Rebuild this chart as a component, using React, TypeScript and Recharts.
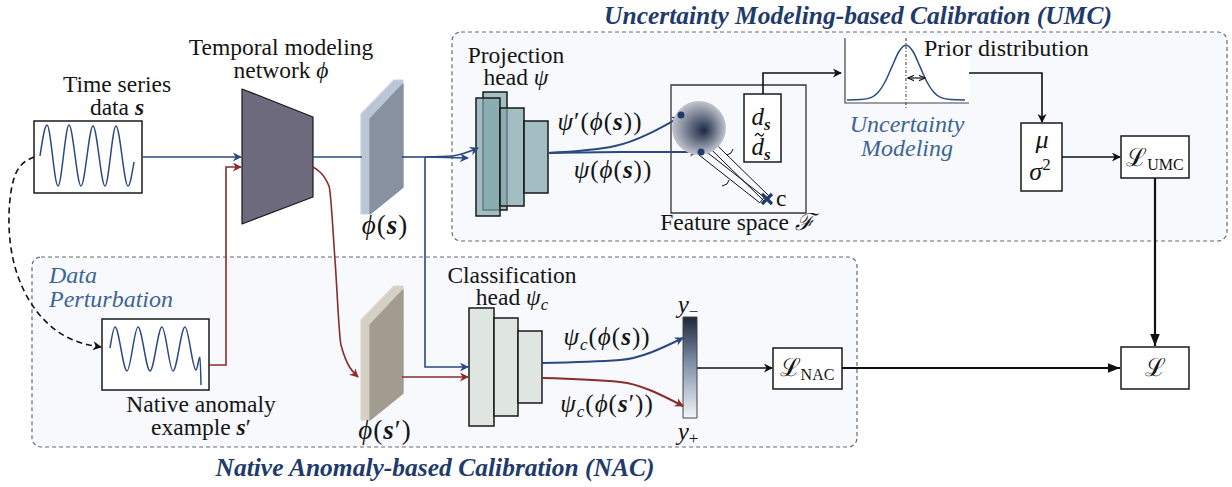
import { ComposedChart, XAxis, YAxis, Line, Scatter, ReferenceArea, ReferenceDot, Customized } from 'recharts';

type Pt = { x: number; y: number };
type Box = { x1: number; y1: number; x2: number; y2: number };

const SERIF = '"Liberation Serif", "DejaVu Serif", serif';
const INK = '#151515';
const NAVY = '#1f3b6b';
const SOFT_BLUE = '#3d6494';
const BLUE = '#2a4a7f';
const RED = '#8a2c2c';

// diagram units: 1 unit = 1 px of the original figure, y grows downwards

// sketched signals
const seriesS: Pt[] = [
  { x: 40, y: 156 }, { x: 47, y: 125 }, { x: 58, y: 186 }, { x: 69, y: 125 }, { x: 81, y: 186 },
  { x: 93, y: 126 }, { x: 105, y: 186 }, { x: 116, y: 126 }, { x: 128, y: 186 }, { x: 134, y: 162 },
];
const seriesAnomaly: Pt[] = [
  { x: 110, y: 348 }, { x: 115, y: 327 }, { x: 127, y: 371 }, { x: 138, y: 327 }, { x: 150, y: 371 },
  { x: 162, y: 327 }, { x: 173, y: 371 }, { x: 185, y: 327 }, { x: 196, y: 370 }, { x: 200, y: 357 }, { x: 201, y: 385 },
];
const priorCurve: Pt[] = [
  { x: 847, y: 100 }, { x: 861, y: 99.6 }, { x: 871, y: 97.6 }, { x: 878, y: 92.6 }, { x: 885, y: 82 },
  { x: 892, y: 66.6 }, { x: 899, y: 51.5 }, { x: 906, y: 45 }, { x: 913, y: 51.5 }, { x: 920, y: 66.6 },
  { x: 927, y: 82 }, { x: 934, y: 92.6 }, { x: 941, y: 97.6 }, { x: 951, y: 99.6 }, { x: 965, y: 100 },
];

// connectors
const sToNet: Pt[] = [{ x: 142, y: 157 }, { x: 241, y: 157 }];
const netToPlate: Pt[] = [{ x: 313, y: 157 }, { x: 362, y: 157 }];
const plateToSplit: Pt[] = [{ x: 402, y: 157 }, { x: 425, y: 157 }];
const splitToProjUpper: Pt[] = [{ x: 425, y: 157 }, { x: 452, y: 156 }, { x: 478, y: 148 }];
const splitToProjLower: Pt[] = [{ x: 425, y: 157 }, { x: 468, y: 158 }];
const splitToCls: Pt[] = [{ x: 425, y: 157 }, { x: 425, y: 367 }, { x: 468, y: 367 }];
const anomalyToNet: Pt[] = [{ x: 209, y: 365 }, { x: 226, y: 365 }, { x: 226, y: 167 }, { x: 241, y: 167 }];
const netToPlate2: Pt[] = [{ x: 313, y: 167 }, { x: 329, y: 186 }, { x: 335, y: 260 }, { x: 341, y: 345 }, { x: 358, y: 377 }];
const plate2ToCls: Pt[] = [{ x: 402, y: 377 }, { x: 468, y: 377 }];
const projToPrime: Pt[] = [{ x: 548, y: 153 }, { x: 615, y: 146 }, { x: 680, y: 117 }];
const projToPsi: Pt[] = [{ x: 548, y: 153 }, { x: 620, y: 152 }, { x: 698, y: 152 }];
const dToPrior: Pt[] = [{ x: 763, y: 94 }, { x: 763, y: 73 }, { x: 841, y: 73 }];
const priorToStats: Pt[] = [{ x: 969, y: 73 }, { x: 1042, y: 73 }, { x: 1042, y: 122 }];
const statsToUmc: Pt[] = [{ x: 1062, y: 157 }, { x: 1120, y: 157 }];
const umcToTotal: Pt[] = [{ x: 1155, y: 178 }, { x: 1155, y: 346 }];
const clsToMinus: Pt[] = [{ x: 542, y: 363 }, { x: 620, y: 360 }, { x: 683, y: 338 }];
const clsToPlus: Pt[] = [{ x: 542, y: 378 }, { x: 620, y: 382 }, { x: 683, y: 406 }];
const barToNac: Pt[] = [{ x: 697, y: 368 }, { x: 772, y: 368 }];
const nacToTotal: Pt[] = [{ x: 842, y: 368 }, { x: 1120, y: 368 }];
const perturbPath: Pt[] = [
  { x: 34, y: 157 }, { x: 14, y: 166 }, { x: 7, y: 215 }, { x: 12, y: 268 }, { x: 35, y: 315 }, { x: 70, y: 342 }, { x: 101, y: 347 },
];

// feature space
const band1: Pt[] = [{ x: 683.5, y: 112.5 }, { x: 769.5, y: 196.5 }, { x: 764.5, y: 201.5 }, { x: 678.5, y: 117.5 }, { x: 683.5, y: 112.5 }];
const band2: Pt[] = [{ x: 703.2, y: 149.2 }, { x: 764.2, y: 197.2 }, { x: 759.8, y: 202.8 }, { x: 698.8, y: 154.8 }, { x: 703.2, y: 149.2 }];
const brace1: Pt[] = [{ x: 727, y: 155 }, { x: 731, y: 153 }, { x: 733, y: 149 }];
const brace2: Pt[] = [{ x: 722, y: 186 }, { x: 727, y: 184 }, { x: 729, y: 180 }];
const crossA: Pt[] = [{ x: 762, y: 194 }, { x: 772, y: 204 }];
const crossB: Pt[] = [{ x: 762, y: 204 }, { x: 772, y: 194 }];
const tildeMark: Pt[] = [{ x: 755, y: 136 }, { x: 757.5, y: 133.5 }, { x: 761.5, y: 136 }, { x: 764, y: 133.5 }];
const featurePoints: Pt[] = [{ x: 681, y: 115 }, { x: 701, y: 152 }];
const blobCenter: Pt = { x: 699, y: 128 };

// prior plot furniture
const priorAxes: Pt[] = [{ x: 845, y: 38 }, { x: 845, y: 103 }, { x: 969, y: 103 }];
const priorMean: Pt[] = [{ x: 906, y: 38 }, { x: 906, y: 108 }];
const priorSpread: Pt[] = [{ x: 908, y: 78 }, { x: 925, y: 78 }];

// boxes
const umcPanel: Box = { x1: 452, y1: 32, x2: 1227, y2: 241 };
const nacPanel: Box = { x1: 32, y1: 257, x2: 857, y2: 447 };
const plainBoxes: Box[] = [
  { x1: 34, y1: 121, x2: 142, y2: 193 },
  { x1: 102, y1: 319, x2: 209, y2: 390 },
  { x1: 744, y1: 94, x2: 781, y2: 162 },
  { x1: 1021, y1: 123, x2: 1062, y2: 191 },
  { x1: 1121, y1: 136, x2: 1189, y2: 178 },
  { x1: 773, y1: 348, x2: 842, y2: 389 },
  { x1: 1121, y1: 347, x2: 1189, y2: 389 },
];
const featureBox: Box = { x1: 671, y1: 85, x2: 806, y2: 213 };
const priorPane: Box = { x1: 845, y1: 36, x2: 970, y2: 103 };
const projLayers: Box[] = [
  { x1: 483, y1: 92, x2: 507, y2: 210 },
  { x1: 476, y1: 98, x2: 500, y2: 216 },
  { x1: 500, y1: 108, x2: 524, y2: 206 },
  { x1: 524, y1: 121, x2: 548, y2: 193 },
];
const clsLayers: Box[] = [
  { x1: 469, y1: 308, x2: 494, y2: 426 },
  { x1: 494, y1: 318, x2: 518, y2: 416 },
  { x1: 518, y1: 331, x2: 542, y2: 403 },
];
const network: Box = { x1: 242, y1: 89, x2: 313, y2: 224 };
const plateS: Box = { x1: 361, y1: 80, x2: 403, y2: 214 };
const plateS2: Box = { x1: 361, y1: 286, x2: 403, y2: 420 };
const scoreBar: Box = { x1: 683, y1: 317, x2: 697, y2: 418 };

// text anchors
const texts = [
  { x: 858, y: 24, id: 'umcTitle' },
  { x: 435, y: 476, id: 'nacTitle' },
  { x: 117, y: 92, id: 'ts1' },
  { x: 117, y: 115, id: 'ts2' },
  { x: 281, y: 55, id: 'tm1' },
  { x: 281, y: 78, id: 'tm2' },
  { x: 385, y: 234, id: 'phiS' },
  { x: 385, y: 439, id: 'phiS2' },
  { x: 516, y: 63, id: 'ph1' },
  { x: 516, y: 85, id: 'ph2' },
  { x: 600, y: 130, id: 'psiP' },
  { x: 613, y: 178, id: 'psi' },
  { x: 761, y: 125, id: 'ds' },
  { x: 761, y: 155, id: 'dts' },
  { x: 776, y: 206, id: 'c' },
  { x: 737, y: 230, id: 'fs' },
  { x: 924, y: 56, id: 'prior' },
  { x: 907, y: 132, id: 'um1' },
  { x: 907, y: 156, id: 'um2' },
  { x: 1042, y: 148, id: 'mu' },
  { x: 1040, y: 180, id: 'sigma' },
  { x: 1155, y: 166, id: 'lumc' },
  { x: 49, y: 283, id: 'dp1' },
  { x: 49, y: 307, id: 'dp2' },
  { x: 201, y: 412, id: 'na1' },
  { x: 201, y: 435, id: 'na2' },
  { x: 512, y: 283, id: 'ch1' },
  { x: 512, y: 305, id: 'ch2' },
  { x: 607, y: 345, id: 'psic' },
  { x: 607, y: 412, id: 'psic2' },
  { x: 688, y: 313, id: 'yminus' },
  { x: 688, y: 440, id: 'yplus' },
  { x: 807, y: 376, id: 'lnac' },
  { x: 1155, y: 376, id: 'lall' },
];

const I = ({ children }: { children: string }) => <tspan fontStyle="italic">{children}</tspan>;
const B = ({ children }: { children: string }) => <tspan fontStyle="italic" fontWeight="bold">{children}</tspan>;

function renderText(id: string, x: number, y: number) {
  const base = { x, y, style: { fontFamily: SERIF }, fontSize: 23.5, fill: INK, textAnchor: 'middle' as const };
  const math = { ...base, fontSize: 25, letterSpacing: 1 };
  const title = { ...base, fontSize: 25.5, fontWeight: 'bold', fontStyle: 'italic', fill: NAVY };
  switch (id) {
    case 'umcTitle': return <text {...title}>Uncertainty Modeling-based Calibration (UMC)</text>;
    case 'nacTitle': return <text {...title}>Native Anomaly-based Calibration (NAC)</text>;
    case 'ts1': return <text {...base}>Time series</text>;
    case 'ts2': return <text {...base}>data <B>s</B></text>;
    case 'tm1': return <text {...base}>Temporal modeling</text>;
    case 'tm2': return <text {...base}>network <I>ϕ</I></text>;
    case 'phiS': return <text {...math} fontSize={27}><I>ϕ</I>(<B>s</B>)</text>;
    case 'phiS2': return <text {...math} fontSize={27}><I>ϕ</I>(<B>s</B>′)</text>;
    case 'ph1': return <text {...base}>Projection</text>;
    case 'ph2': return <text {...base}>head <I>ψ</I></text>;
    case 'psiP': return <text {...math}><I>ψ</I>′(<I>ϕ</I>(<B>s</B>))</text>;
    case 'psi': return <text {...math}><I>ψ</I>(<I>ϕ</I>(<B>s</B>))</text>;
    case 'ds': return <text {...base} fontSize={25}><I>d</I><tspan dy={5} fontSize={17} fontStyle="italic" fontWeight="bold">s</tspan></text>;
    case 'dts': return <text {...base} fontSize={25}><I>d</I><tspan dy={5} fontSize={17} fontStyle="italic" fontWeight="bold">s</tspan></text>;
    case 'c': return <text {...base} textAnchor="start">c</text>;
    case 'fs': return <text {...base}>Feature space <I>ℱ</I></text>;
    case 'prior': return <text {...base} fontSize={24} textAnchor="start">Prior distribution</text>;
    case 'um1': return <text {...base} fontSize={24} fontStyle="italic" fill={SOFT_BLUE}>Uncertainty</text>;
    case 'um2': return <text {...base} fontSize={24} fontStyle="italic" fill={SOFT_BLUE}>Modeling</text>;
    case 'mu': return <text {...base} fontSize={26}><I>μ</I></text>;
    case 'sigma': return <text {...base} fontSize={26}><I>σ</I><tspan dy={-10} fontSize={17}>2</tspan></text>;
    case 'lumc': return <text {...base} fontSize={25}>ℒ<tspan dy={4} fontSize={16}>UMC</tspan></text>;
    case 'lnac': return <text {...base} fontSize={25}>ℒ<tspan dy={4} fontSize={16}>NAC</tspan></text>;
    case 'lall': return <text {...base} fontSize={25}>ℒ</text>;
    case 'dp1': return <text {...base} fontSize={24} textAnchor="start" fontStyle="italic" fill={SOFT_BLUE}>Data</text>;
    case 'dp2': return <text {...base} fontSize={24} textAnchor="start" fontStyle="italic" fill={SOFT_BLUE}>Perturbation</text>;
    case 'na1': return <text {...base}>Native anomaly</text>;
    case 'na2': return <text {...base}>example <B>s</B>′</text>;
    case 'ch1': return <text {...base}>Classification</text>;
    case 'ch2': return <text {...base}>head <I>ψ</I><tspan dy={5} fontSize={17} fontStyle="italic">c</tspan></text>;
    case 'psic': return <text {...math}><I>ψ</I><tspan dy={5} fontSize={17} fontStyle="italic">c</tspan><tspan dy={-5}>(</tspan><I>ϕ</I>(<B>s</B>))</text>;
    case 'psic2': return <text {...math}><I>ψ</I><tspan dy={5} fontSize={17} fontStyle="italic">c</tspan><tspan dy={-5}>(</tspan><I>ϕ</I>(<B>s</B>′))</text>;
    case 'yminus': return <text {...base} fontSize={25}><I>y</I><tspan dy={4} fontSize={17}>−</tspan></text>;
    case 'yplus': return <text {...base} fontSize={25}><I>y</I><tspan dy={4} fontSize={17}>+</tspan></text>;
    default: return <g />;
  }
}

const Defs = () => (
  <defs>
    <marker id="mBlue" viewBox="0 0 10 10" refX="9" refY="5" markerWidth="11" markerHeight="9" markerUnits="userSpaceOnUse" orient="auto-start-reverse">
      <path d="M0,0 L10,5 L0,10 L3,5 z" fill={BLUE} />
    </marker>
    <marker id="mRed" viewBox="0 0 10 10" refX="9" refY="5" markerWidth="11" markerHeight="9" markerUnits="userSpaceOnUse" orient="auto-start-reverse">
      <path d="M0,0 L10,5 L0,10 L3,5 z" fill={RED} />
    </marker>
    <marker id="mBlack" viewBox="0 0 10 10" refX="9" refY="5" markerWidth="11" markerHeight="9" markerUnits="userSpaceOnUse" orient="auto-start-reverse">
      <path d="M0,0 L10,5 L0,10 L3,5 z" fill="#111" />
    </marker>
    <marker id="mSmall" viewBox="0 0 10 10" refX="9" refY="5" markerWidth="7" markerHeight="7" markerUnits="userSpaceOnUse" orient="auto-start-reverse">
      <path d="M0,1 L9,5 L0,9" fill="none" stroke="#111" strokeWidth="1.5" />
    </marker>
    <marker id="mHeavy" viewBox="0 0 10 10" refX="10" refY="5" markerWidth="12" markerHeight="12" markerUnits="userSpaceOnUse" orient="auto-start-reverse">
      <path d="M0,1 L10,5 L0,9 z" fill="#111" />
    </marker>
    <radialGradient id="blob" cx="0.5" cy="0.5" r="0.5" fx="0.6" fy="0.55">
      <stop offset="0%" stopColor="#1d2842" />
      <stop offset="40%" stopColor="#5d677c" />
      <stop offset="100%" stopColor="#c2c5cd" />
    </radialGradient>
    <linearGradient id="ybar" x1="0" y1="0" x2="0" y2="1">
      <stop offset="0%" stopColor="#1e2738" />
      <stop offset="45%" stopColor="#7d8faa" />
      <stop offset="100%" stopColor="#f4f6f9" />
    </linearGradient>
  </defs>
);

const poly = (frac: number[][], fill: string, stroke: string) => (p: any) => (
  <polygon
    points={frac.map(([fx, fy]) => `${p.x + fx * p.width},${p.y + fy * p.height}`).join(' ')}
    fill={fill}
    stroke={stroke}
    strokeWidth={1.2}
    strokeLinejoin="round"
  />
);

const panelShape = (p: any) => (
  <rect x={p.x} y={p.y} width={p.width} height={p.height} rx={9} ry={9} fill="#f7f9fc" stroke="#6b6b6b" strokeWidth={1.2} strokeDasharray="4 3" />
);

const TRAPEZOID = [[0, 0], [1, 0.207], [1, 0.8], [0, 1]];
const PLATE_SIDE = [[0, 0.254], [0.786, 0], [1, 0], [1, 0.8], [0.214, 1], [0, 1]];
const PLATE_FACE = [[0.214, 0.29], [1, 0.03], [1, 0.8], [0.214, 1]];

function wire(key: string, data: Pt[], stroke: string, opts: { marker?: string; start?: string; type?: any; width?: number; dash?: string } = {}) {
  return (
    <Line
      key={key}
      data={data}
      dataKey="y"
      type={opts.type ?? 'linear'}
      stroke={stroke}
      strokeWidth={opts.width ?? 1.6}
      strokeDasharray={opts.dash}
      markerEnd={opts.marker ? `url(#${opts.marker})` : undefined}
      markerStart={opts.start ? `url(#${opts.start})` : undefined}
      dot={false}
      activeDot={false}
      isAnimationActive={false}
      legendType="none"
    />
  );
}

export default function App() {
  return (
    <div style={{ position: 'absolute', left: 0, top: 0, background: '#fff', fontFamily: SERIF }}>
      <ComposedChart width={1232} height={487} margin={{ top: 0, right: 0, bottom: 0, left: 0 }} style={{ fontFamily: SERIF }}>
        <Customized component={Defs} />
        <XAxis type="number" dataKey="x" domain={[0, 1232]} allowDataOverflow hide />
        <YAxis type="number" dataKey="y" domain={[0, 487]} reversed allowDataOverflow hide />

        {/* dashed calibration panels */}
        <ReferenceArea {...umcPanel} shape={panelShape} ifOverflow="visible" />
        <ReferenceArea {...nacPanel} shape={panelShape} ifOverflow="visible" />

        {/* plain boxes */}
        {plainBoxes.map((b, i) => (
          <ReferenceArea key={`box${i}`} {...b} fill="#fff" fillOpacity={1} stroke="#1a1a1a" strokeWidth={1.5} ifOverflow="visible" />
        ))}
        <ReferenceArea {...featureBox} fill="none" fillOpacity={0} stroke="#333" strokeWidth={1.3} ifOverflow="visible" />
        <ReferenceArea {...priorPane} fill="#fff" fillOpacity={1} stroke="none" ifOverflow="visible" />

        {/* network, feature plates, heads */}
        <ReferenceArea {...network} shape={poly(TRAPEZOID, '#6d6a7d', '#1a1a1a')} ifOverflow="visible" />
        <ReferenceArea {...plateS} shape={poly(PLATE_SIDE, '#bac5d6', '#c9d2e0')} ifOverflow="visible" />
        <ReferenceArea {...plateS} shape={poly(PLATE_FACE, '#87919f', '#87919f')} ifOverflow="visible" />
        <ReferenceArea {...plateS2} shape={poly(PLATE_SIDE, '#d6cfc4', '#ddd7cd')} ifOverflow="visible" />
        <ReferenceArea {...plateS2} shape={poly(PLATE_FACE, '#a29b90', '#a29b90')} ifOverflow="visible" />
        {projLayers.map((b, i) => (
          <ReferenceArea key={`proj${i}`} {...b} fill="#7fa5a9" fillOpacity={0.7} stroke="#1a1a1a" strokeWidth={1.5} ifOverflow="visible" />
        ))}
        {clsLayers.map((b, i) => (
          <ReferenceArea key={`cls${i}`} {...b} fill="#dfe6e2" fillOpacity={1} stroke="#1a1a1a" strokeWidth={1.5} ifOverflow="visible" />
        ))}
        <ReferenceArea {...scoreBar} fill="url(#ybar)" fillOpacity={1} stroke="#444" strokeWidth={1} ifOverflow="visible" />

        {/* feature space */}
        <ReferenceDot x={blobCenter.x} y={blobCenter.y} r={27} fill="url(#blob)" stroke="none" ifOverflow="visible" />

        {/* signals */}
        {wire('sigS', seriesS, BLUE, { type: 'monotone', width: 1.5 })}
        {wire('sigA', seriesAnomaly, BLUE, { type: 'monotone', width: 1.5 })}
        {wire('prior', priorCurve, BLUE, { type: 'monotone', width: 1.5 })}
        {wire('pAxes', priorAxes, '#444', { width: 1.2 })}
        {wire('pMean', priorMean, '#555', { width: 1.2, dash: '3 2 1 2' })}
        {wire('pSpread', priorSpread, '#111', { width: 1.2, marker: 'mSmall', start: 'mSmall' })}

        {/* blue path of s */}
        {wire('w1', sToNet, BLUE, { marker: 'mBlue' })}
        {wire('w2', netToPlate, BLUE)}
        {wire('w3', plateToSplit, BLUE)}
        {wire('w4', splitToProjUpper, BLUE, { type: 'monotone', marker: 'mBlue' })}
        {wire('w5', splitToProjLower, BLUE, { marker: 'mBlue' })}
        {wire('w6', splitToCls, BLUE, { marker: 'mBlue' })}
        {wire('w7', projToPrime, BLUE, { type: 'monotone', marker: 'mBlue', width: 2 })}
        {wire('w8', projToPsi, BLUE, { type: 'monotone', marker: 'mBlue', width: 2 })}
        {wire('w9', clsToMinus, BLUE, { type: 'monotone', marker: 'mBlue', width: 2 })}

        {/* red path of s' */}
        {wire('r1', anomalyToNet, RED, { marker: 'mRed' })}
        {wire('r2', netToPlate2, RED, { type: 'monotone', marker: 'mRed' })}
        {wire('r3', plate2ToCls, RED, { marker: 'mRed' })}
        {wire('r4', clsToPlus, RED, { type: 'monotone', marker: 'mRed', width: 2 })}

        {/* black flows */}
        {wire('k1', dToPrior, '#111', { marker: 'mBlack' })}
        {wire('k2', priorToStats, '#111', { marker: 'mBlack' })}
        {wire('k3', statsToUmc, '#111', { marker: 'mBlack' })}
        {wire('k4', umcToTotal, '#111', { marker: 'mHeavy', width: 2.2 })}
        {wire('k5', barToNac, '#111', { marker: 'mBlack' })}
        {wire('k6', nacToTotal, '#111', { marker: 'mHeavy', width: 2.2 })}
        {wire('k7', perturbPath, '#111', { type: 'basis', marker: 'mBlack', dash: '6 4' })}

        {/* distances to the centre c */}
        {wire('b1', band1, '#111', { width: 1 })}
        {wire('b2', band2, '#111', { width: 1 })}
        {wire('br1', brace1, '#111', { width: 1 })}
        {wire('br2', brace2, '#111', { width: 1 })}
        {wire('x1', crossA, NAVY, { width: 3.2 })}
        {wire('x2', crossB, NAVY, { width: 3.2 })}
        {wire('tilde', tildeMark, INK, { type: 'monotone', width: 1.3 })}
        {featurePoints.map((p, i) => (
          <ReferenceDot key={`fp${i}`} x={p.x} y={p.y} r={3.5} fill={NAVY} stroke="none" ifOverflow="visible" />
        ))}

        <Scatter data={texts} isAnimationActive={false} shape={(p: any) => renderText(p.payload.id, p.cx, p.cy)} />
      </ComposedChart>
    </div>
  );
}
